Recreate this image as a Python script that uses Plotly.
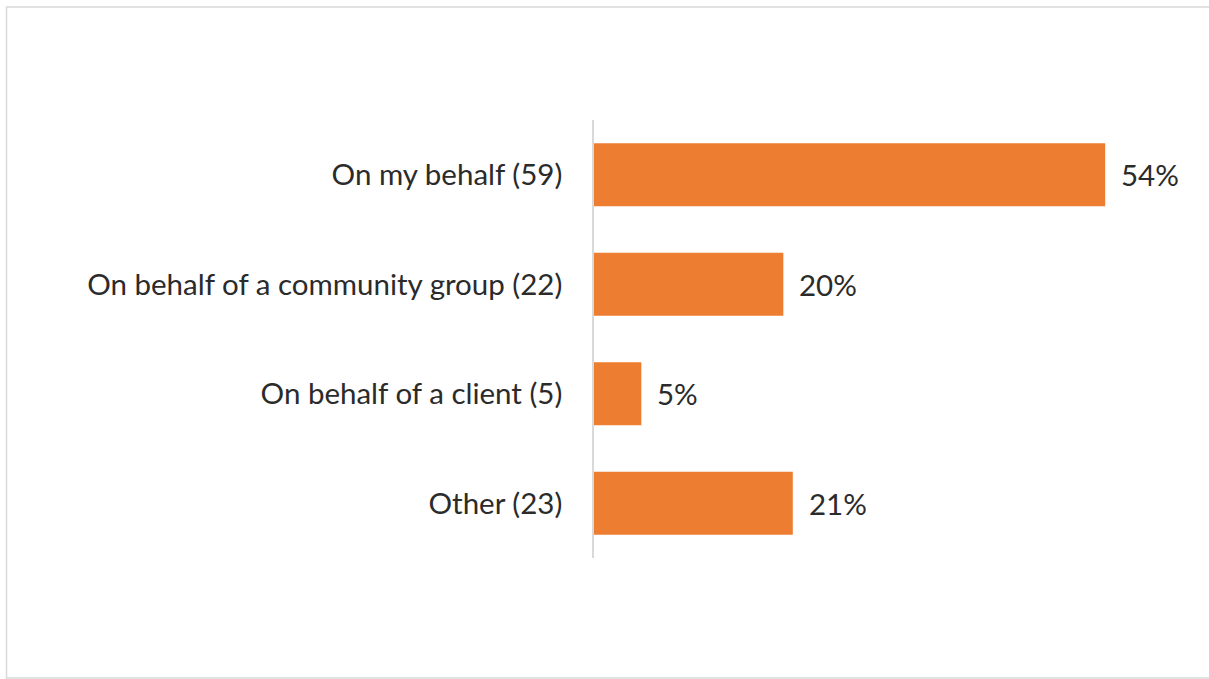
import plotly.graph_objects as go

categories = ["On my behalf (59)", "On behalf of a community group (22)", "On behalf of a client (5)", "Other (23)"]
values = [54, 20, 5, 21]
value_labels = ["54%", "20%", "5%", "21%"]

W, H = 1209, 679
L, R, T, B = 594, 1162, 120, 558
FONT = "Lato, Carlito, Calibri, sans-serif"
TXT = "#2b2b2b"

fig = go.Figure(go.Bar(
    y=categories, x=values, orientation="h",
    marker=dict(color="#ED7D31", line=dict(width=0)),
    width=0.575, hoverinfo="skip",
))

for c, v, t in zip(categories, values, value_labels):
    fig.add_annotation(x=v, y=c, text=t, showarrow=False, xanchor="left",
                       xshift=14, font=dict(size=29.5, color=TXT, family=FONT))

def px_x(p):
    return (p - L) / (R - L)

def px_y(p):
    return (B - p) / (B - T)

fig.add_shape(type="rect", xref="paper", yref="paper",
              x0=px_x(6.5), x1=px_x(1220), y0=px_y(678), y1=px_y(7),
              line=dict(color="#D9D9D9", width=1.5), fillcolor="rgba(0,0,0,0)", layer="below")

fig.update_layout(
    width=W, height=H,
    margin=dict(l=L, r=W - R, t=T, b=H - B),
    paper_bgcolor="white", plot_bgcolor="white",
    showlegend=False,
    font=dict(family=FONT, size=29.5, color=TXT),
    xaxis=dict(range=[0, 60], visible=False, fixedrange=True),
    yaxis=dict(autorange="reversed", showline=True, linecolor="#D9D9D9", linewidth=1.5,
               ticks="", ticklabelstandoff=24, showgrid=False, fixedrange=True,
               tickfont=dict(size=29.5, color=TXT)),
)

fig.write_html("out.html", config={"displayModeBar": False},
               post_script="document.body.style.margin='0';document.body.style.overflow='hidden';")
